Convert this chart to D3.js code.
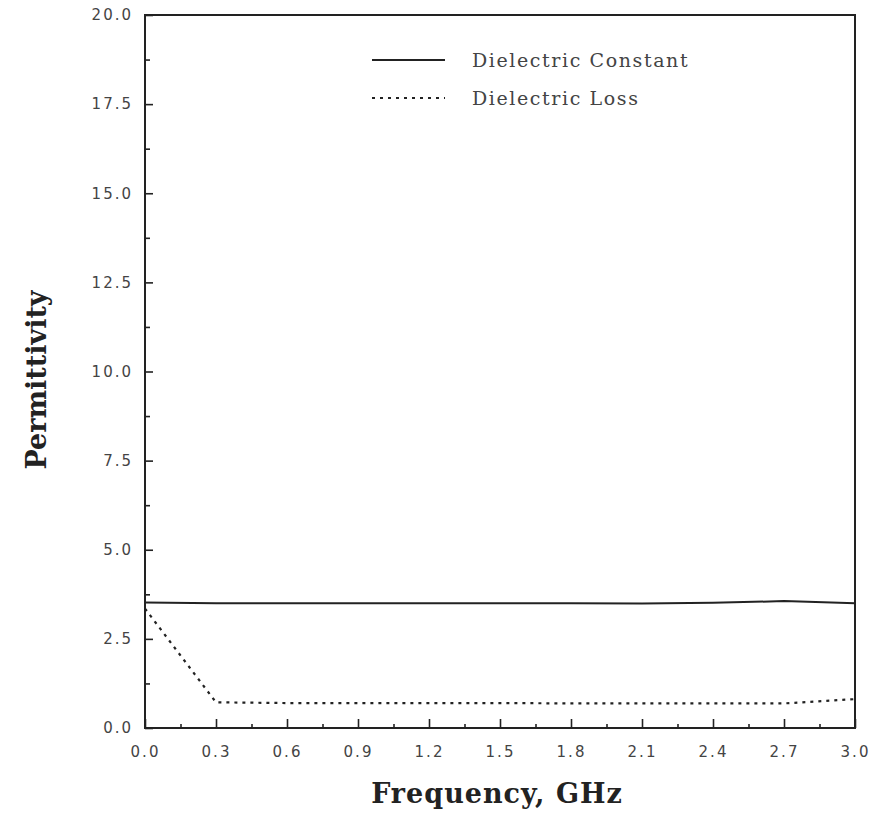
<!DOCTYPE html>
<html><head><meta charset="utf-8">
<script src="https://cdn.jsdelivr.net/npm/d3@7"></script>
<style>body{margin:0;background:#fff}</style>
</head><body>
<script>
const frequency = [0.0, 0.3, 0.6, 0.9, 1.2, 1.5, 1.8, 2.1, 2.4, 2.7, 3.0];
const dielectricConstant = [3.52, 3.50, 3.50, 3.50, 3.50, 3.50, 3.50, 3.49, 3.51, 3.56, 3.50];
const dielectricLoss = [3.35, 0.72, 0.70, 0.70, 0.70, 0.70, 0.69, 0.69, 0.69, 0.69, 0.81];
const xTickLabels = ["0.0","0.3","0.6","0.9","1.2","1.5","1.8","2.1","2.4","2.7","3.0"];
const yTickLabels = ["0.0","2.5","5.0","7.5","10.0","12.5","15.0","17.5","20.0"];
const seriesNames = ["Dielectric Constant", "Dielectric Loss"];

const W = 877, H = 814;
const m = {left:145, right:855, top:15, bottom:728};
const svg = d3.select("body").append("svg").attr("width", W).attr("height", H);
const x = d3.scaleLinear().domain([0, 3]).range([m.left, m.right]);
const y = d3.scaleLinear().domain([0, 20]).range([m.bottom, m.top]);
const ink = "#222";

// frame
svg.append("rect").attr("x", m.left).attr("y", m.top)
  .attr("width", m.right - m.left).attr("height", m.bottom - m.top)
  .attr("fill", "none").attr("stroke", ink).attr("stroke-width", 2);

// x axis
const xTicks = xTickLabels.map(Number);
const xAxis = d3.axisBottom(x).tickValues(xTicks).tickSize(-9).tickPadding(18)
  .tickFormat((d,i) => xTickLabels[i]);
svg.append("g").attr("transform", `translate(0,${m.bottom})`).call(xAxis);
const xMinor = d3.axisBottom(x).tickValues(d3.range(0.15, 3, 0.3)).tickSize(-4).tickFormat("");
svg.append("g").attr("transform", `translate(0,${m.bottom})`).call(xMinor);

// y axis
const yTicks = yTickLabels.map(Number);
const yAxis = d3.axisLeft(y).tickValues(yTicks).tickSize(-8).tickPadding(12)
  .tickFormat((d,i) => yTickLabels[i]);
svg.append("g").attr("transform", `translate(${m.left},0)`).call(yAxis);
const yMinor = d3.axisLeft(y).tickValues(d3.range(1.25, 20, 2.5)).tickSize(-5).tickFormat("");
svg.append("g").attr("transform", `translate(${m.left},0)`).call(yMinor);

svg.selectAll(".domain").remove();
svg.selectAll(".tick line").attr("stroke", ink).attr("stroke-width", 1.6);
svg.selectAll(".tick text").attr("fill", "#444")
  .style("font-family", "'DejaVu Sans', sans-serif").style("font-size", "15px")
  .style("letter-spacing", "2px");

// lines
const line = d3.line().x((d,i) => x(frequency[i])).y(d => y(d));
svg.append("path").datum(dielectricConstant).attr("d", line)
  .attr("fill", "none").attr("stroke", ink).attr("stroke-width", 2);
svg.append("path").datum(dielectricLoss).attr("d", line)
  .attr("fill", "none").attr("stroke", ink).attr("stroke-width", 2.2)
  .attr("stroke-dasharray", "3,5");

// legend
const lg = svg.append("g");
const lx0 = 372, lx1 = 445, ly = [60, 98];
lg.append("line").attr("x1", lx0).attr("x2", lx1).attr("y1", ly[0]).attr("y2", ly[0])
  .attr("stroke", ink).attr("stroke-width", 2);
lg.append("line").attr("x1", lx0).attr("x2", lx1).attr("y1", ly[1]).attr("y2", ly[1])
  .attr("stroke", ink).attr("stroke-width", 1.8).attr("stroke-dasharray", "3,5");
seriesNames.forEach((n, i) => {
  lg.append("text").attr("x", 472).attr("y", ly[i] + 7).text(n)
    .attr("fill", "#444").style("font-family", "'DejaVu Serif', serif")
    .style("font-size", "19px").style("letter-spacing", "1.6px");
});

// axis titles
svg.append("text").attr("x", 497).attr("y", 803)
  .attr("text-anchor", "middle").text("Frequency, GHz")
  .style("font-family", "'DejaVu Serif', serif").style("font-weight", "bold")
  .style("font-size", "27px").style("letter-spacing", "1px").attr("fill", "#222");
svg.append("text").attr("transform", `translate(46,380) rotate(-90)`)
  .attr("text-anchor", "middle").text("Permittivity")
  .style("font-family", "'DejaVu Serif', serif").style("font-weight", "bold")
  .style("font-size", "27px").attr("fill", "#222");
</script>
</body></html>
